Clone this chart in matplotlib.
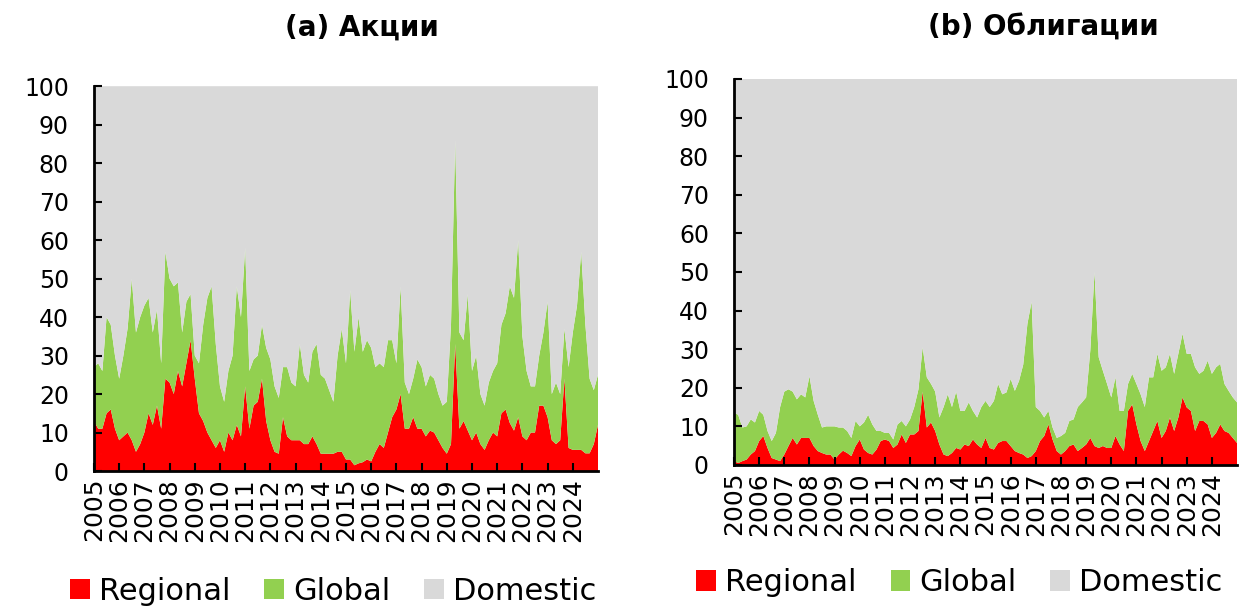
import numpy as np
import matplotlib
matplotlib.use("Agg")
from matplotlib import pyplot as plt

# данные: доли в %, шаг два месяца, 2005-2025
# верхняя граница зелёной области = Regional + Global
stocks_regional = [
    13, 11, 11, 15, 16, 11,
    8, 9, 10, 8, 5, 7,
    10, 15, 12, 17, 11, 24,
    23, 20, 26, 22, 28, 34,
    24, 15, 13, 10, 8, 6,
    8, 5, 10, 8, 12, 9,
    22, 11, 17, 18, 24, 13,
    8, 5, 4.5, 14, 9, 8,
    8, 8, 7, 7, 9, 7,
    4.5, 4.5, 4.5, 4.5, 5, 5,
    3, 3, 1.5, 2, 2.3, 3,
    2.5, 5, 7, 6, 10, 14,
    16, 20, 11, 11, 14, 11,
    11, 9, 10.5, 10, 8, 6,
    4.5, 7, 33, 11, 13, 10.5,
    8, 10, 7, 5.5, 8, 10,
    9, 15, 16, 12.5, 10.5, 14,
    9, 8, 10, 10, 17, 17,
    14, 8, 7, 8, 24, 6,
    5.5, 5.5, 5.5, 4.6, 4.6, 7,
    12,
]
stocks_regional_global = [
    27, 28, 26, 40, 38, 30,
    24, 30, 37, 50, 36, 40,
    43, 45, 36, 42, 28, 57,
    50, 48, 49, 36, 44, 46,
    30, 28, 38, 45, 48, 33,
    22, 18, 26, 30, 48, 40,
    58, 26, 29, 30, 38, 32,
    29, 22, 19, 27, 27, 23,
    22, 33, 25, 23, 31, 33,
    25, 24, 21, 18, 30, 37,
    28, 47, 31, 40, 31, 34,
    32, 27, 28, 27, 34, 34,
    28, 48, 23, 20, 24, 29,
    27, 22, 25, 24, 20, 17,
    18, 38, 86, 36, 34, 46,
    26, 30, 20, 17, 23, 26,
    28, 38, 41, 48, 45, 60,
    35, 26, 22, 22, 30, 36,
    44, 20, 23, 20, 37, 27,
    36, 43, 57, 38, 24, 21,
    25,
]
bonds_regional = [
    1, 0.5, 1, 1.4, 2.7, 3.6,
    6.2, 7.5, 4.4, 1.8, 1.4, 1,
    2.7, 4.9, 7, 5.3, 7, 7,
    7, 4.9, 3.6, 3.1, 2.7, 2.7,
    1.4, 2.7, 3.7, 3.1, 2.3, 4.9,
    6.6, 4, 3.1, 2.7, 4, 6.2,
    6.6, 6.2, 4.4, 5.3, 7.9, 5.7,
    7.9, 7.9, 8.8, 19, 9.7, 11,
    8.8, 5.3, 2.7, 2.3, 3.1, 4.4,
    4, 5.3, 4.9, 6.6, 5.3, 4.4,
    7, 4.4, 4, 5.7, 6.2, 6.2,
    4.9, 3.6, 3.1, 2.7, 1.8, 2.3,
    3.6, 6.2, 7.5, 10.5, 6.6, 3.6,
    2.7, 3.6, 4.9, 5.3, 3.6, 4.4,
    5.3, 7, 4.9, 4.4, 4.9, 4.4,
    4.4, 7.5, 5.3, 3.6, 14, 15.7,
    10.5, 6.2, 3.6, 6.2, 8.8, 11.4,
    7, 8.8, 12.3, 8.8, 12.3, 17.5,
    14.9, 14, 8.8, 11.4, 11.4, 10.5,
    7, 8.3, 10.5, 8.8, 8.3, 7,
    5.7,
]
bonds_regional_global = [
    13.5, 13, 9.7, 10, 11.8, 11,
    14, 13, 8.8, 6.2, 8.3, 15,
    19, 19.6, 19, 17, 18.3, 17.5,
    23, 16.6, 13, 9.7, 10, 10,
    10, 9.7, 9.7, 8.8, 7, 11.4,
    10, 11, 13, 10.5, 8.8, 8.8,
    8.3, 8.3, 6.6, 10.5, 11.4, 10,
    11.8, 15, 19.6, 30.5, 22.7, 21,
    19, 12.3, 15, 18.3, 15, 19,
    14, 14, 16.2, 14, 12.3, 15,
    16.6, 15, 16.6, 21, 18.3, 18.8,
    22.3, 19.2, 21.8, 26, 36.6, 42.3,
    15, 14, 12.3, 14, 9.7, 7,
    7.5, 8.3, 11.4, 11.8, 15, 16.2,
    17.5, 29.7, 50, 27.9, 24.4, 21,
    17.5, 22.7, 14, 14, 21, 23.6,
    21, 18.3, 15, 22.7, 22.7, 28.8,
    24.4, 25.3, 28.8, 23.6, 28.8, 34,
    28.8, 28.8, 25.3, 23.6, 24.4, 27,
    23.6, 25.3, 26.2, 21, 19.2, 17.5,
    16.2,
]
years = list(range(2005, 2025))
dates = 2005 + np.arange(len(stocks_regional)) / 6
series_names = ["Regional", "Global", "Domestic"]
colors = ["#FF0000", "#92D050", "#D9D9D9"]

plt.rcParams["font.family"] = ["DejaVu Sans"]

fig = plt.figure(figsize=(12.43, 6.07), dpi=100)
ax1 = fig.add_axes([0.0756, 0.224, 0.4055, 0.634])
ax2 = fig.add_axes([0.5905, 0.234, 0.4047, 0.636])


def draw(ax, regional, upper):
    reg = np.array(regional, dtype=float)
    glob = np.array(upper, dtype=float) - reg
    dom = 100 - reg - glob
    ax.stackplot(dates, reg, glob, dom, colors=colors, labels=series_names, linewidth=0)
    ax.set_xlim(2005, 2025)
    ax.set_ylim(0, 100)
    ax.set_yticks(range(0, 101, 10))
    ax.set_xticks(years)
    ax.set_xticklabels([str(y) for y in years], rotation=90)
    ax.tick_params(direction="in", length=6, width=1.5)
    ax.tick_params(axis="y", labelsize=17, pad=18)
    ax.tick_params(axis="x", labelsize=18, pad=5)
    for s in ["top", "right"]:
        ax.spines[s].set_visible(False)
    for s in ["left", "bottom"]:
        ax.spines[s].set_linewidth(2)


draw(ax1, stocks_regional, stocks_regional_global)
draw(ax2, bonds_regional, bonds_regional_global)

fig.text(0.291, 0.955, "(a) Акции", ha="center", va="center", fontsize=20, fontweight="bold")
fig.text(0.839, 0.955, "(b) Облигации", ha="center", va="center", fontsize=20, fontweight="bold")

for ax, x, y in [(ax1, 0.268, 0.026), (ax2, 0.772, 0.040)]:
    h, l = ax.get_legend_handles_labels()
    fig.legend(h, l, loc="center", bbox_to_anchor=(x, y), ncol=3, frameon=False,
               fontsize=22, handlelength=0.65, handleheight=0.65, handletextpad=0.3,
               columnspacing=1.1, borderaxespad=0)

plt.savefig("out.png", dpi=100)
